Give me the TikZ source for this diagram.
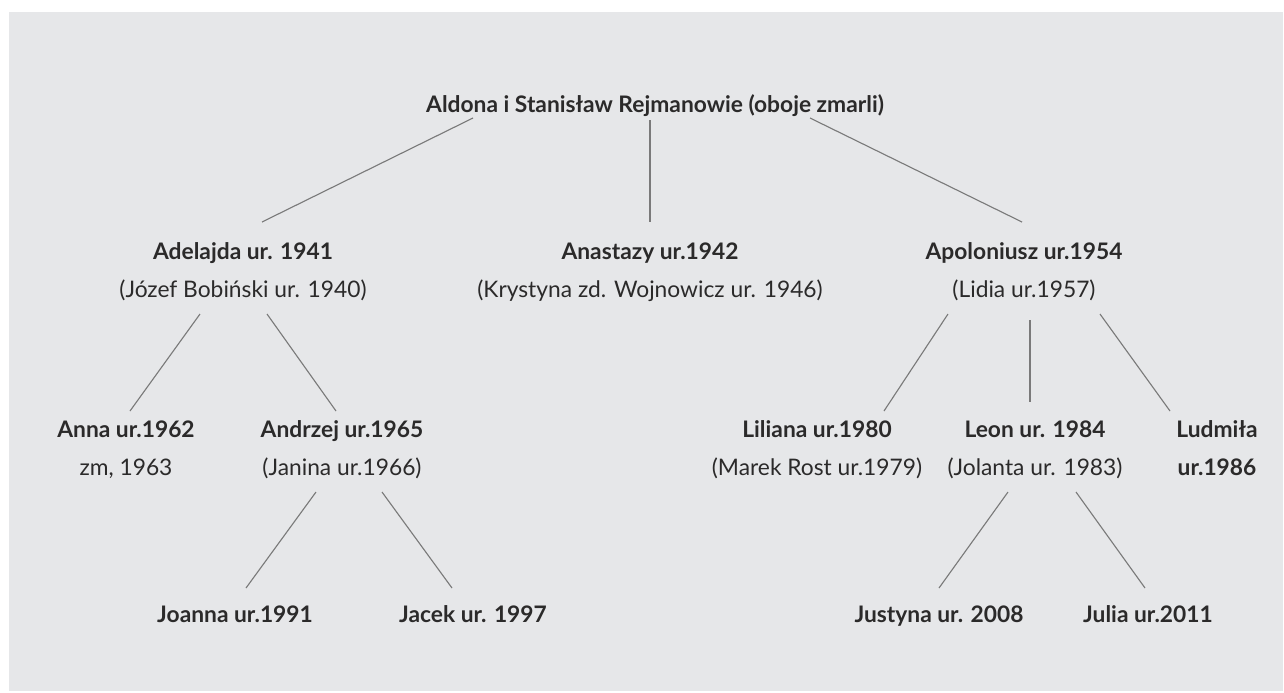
\documentclass[tikz,border=0pt]{standalone}
\usepackage{fontspec}
\setmainfont{Lato}
\usepackage{tikz}
\usetikzlibrary{positioning,calc}
\definecolor{bgrey}{HTML}{E6E7E9}
\definecolor{txtgrey}{HTML}{2B2A2A}
\definecolor{lnkgrey}{HTML}{7A7A7A}

\begin{document}
\begin{tikzpicture}[
    x=0.025cm, y=-0.025cm,
    person/.style={font=\fontsize{16.2}{19}\selectfont\bfseries, text=txtgrey, anchor=base, inner sep=0pt},
    spouse/.style={font=\fontsize{16.2}{19}\selectfont, text=txtgrey, anchor=base, inner sep=0pt},
    link/.style={draw=lnkgrey, line width=0.8pt}
  ]
    \useasboundingbox (0,0) rectangle (1284,692);
    \fill[bgrey] (9,12) rectangle (1283,691);

    \node (root) [person] at (655,112) { Aldona i Stanisław Rejmanowie (oboje zmarli) };

    \node (adelajda) [person] at (243,259) { Adelajda ur. 1941 };
    \node (adelajda-sp) [below=9.5mm of adelajda.base, spouse] { (Józef Bobiński ur. 1940) };
    \node (anastazy) [person] at (650,259) { Anastazy ur.1942 };
    \node (anastazy-sp) [below=9.5mm of anastazy.base, spouse] { (Krystyna zd. Wojnowicz ur. 1946) };
    \node (apoloniusz) [person] at (1024,259) { Apoloniusz ur.1954 };
    \node (apoloniusz-sp) [below=9.5mm of apoloniusz.base, spouse] { (Lidia ur.1957) };

    \node (anna) [person] at (126,437) { Anna ur.1962 };
    \node (anna-zm) [below=9.5mm of anna.base, spouse] { zm, 1963 };
    \node (andrzej) [person] at (342,437) { Andrzej ur.1965 };
    \node (andrzej-sp) [below=9.5mm of andrzej.base, spouse] { (Janina ur.1966) };
    \node (liliana) [person] at (817,437) { Liliana ur.1980 };
    \node (liliana-sp) [below=9.5mm of liliana.base, spouse] { (Marek Rost ur.1979) };
    \node (leon) [person] at (1035,437) { Leon ur. 1984 };
    \node (leon-sp) [below=9.5mm of leon.base, spouse] { (Jolanta ur. 1983) };
    \node (ludmila) [person] at (1217,437) { Ludmiła };
    \node (ludmila-ur) [below=9.5mm of ludmila.base, person] { ur.1986 };

    \node (joanna) [person] at (235,622) { Joanna ur.1991 };
    \node (jacek) [person] at (473,622) { Jacek ur. 1997 };
    \node (justyna) [person] at (939,622) { Justyna ur. 2008 };
    \node (julia) [person] at (1148,622) { Julia ur.2011 };

    \draw[link] ($(root.base)+(-182,6)$) -- ($(adelajda.base)+(19,-37)$);
    \draw[link] ($(root.base)+(-5,8)$) -- ($(anastazy.base)+(0,-37)$);
    \draw[link] ($(root.base)+(155,6)$) -- ($(apoloniusz.base)+(-2,-37)$);

    \draw[link] ($(adelajda-sp.base)+(-43,17)$) -- ($(anna.base)+(4,-26)$);
    \draw[link] ($(adelajda-sp.base)+(24,17)$) -- ($(andrzej.base)+(-6,-26)$);
    \draw[link] ($(apoloniusz-sp.base)+(-76,17)$) -- ($(liliana.base)+(67,-26)$);
    \draw[link] ($(apoloniusz-sp.base)+(6,23)$) -- ($(leon.base)+(-5,-35)$);
    \draw[link] ($(apoloniusz-sp.base)+(76,17)$) -- ($(ludmila.base)+(-47,-26)$);

    \draw[link] ($(andrzej-sp.base)+(-26,17)$) -- ($(joanna.base)+(11,-34)$);
    \draw[link] ($(andrzej-sp.base)+(40,17)$) -- ($(jacek.base)+(-21,-34)$);
    \draw[link] ($(leon-sp.base)+(-27,17)$) -- ($(justyna.base)+(0,-34)$);
    \draw[link] ($(leon-sp.base)+(41,17)$) -- ($(julia.base)+(-3,-34)$);
\end{tikzpicture}
\end{document}
